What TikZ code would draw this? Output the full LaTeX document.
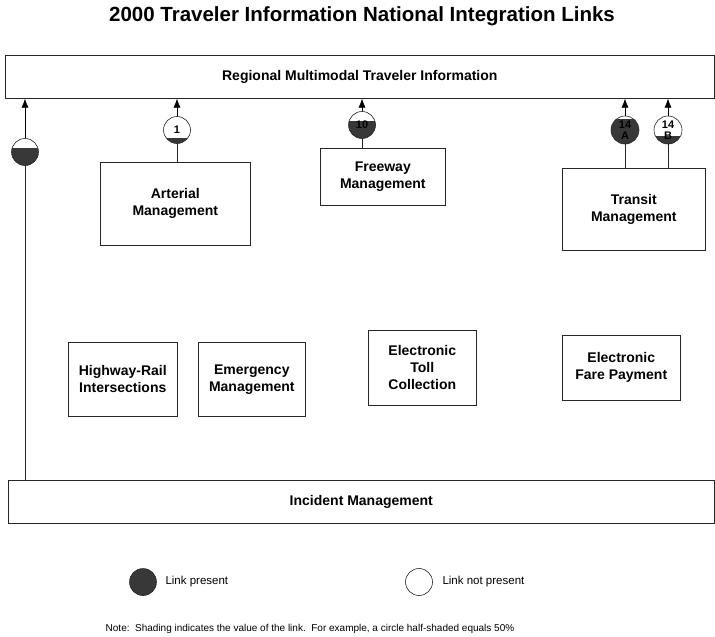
\documentclass[tikz,border=0pt]{standalone}
\usepackage{fontspec}
\setmainfont{Liberation Sans}
\usetikzlibrary{arrows.meta,calc}
\definecolor{linkfill}{gray}{0.22}
\tikzset{
    box/.style={draw=black!85, line width=0.6pt, anchor=north west, align=center,
        font=\bfseries\fontsize{14}{17}\selectfont, inner sep=2pt},
    link/.style={circle, draw=black!85, line width=0.6pt, minimum size=27pt, inner sep=0pt,
        align=center, font=\bfseries\fontsize{11}{11}\selectfont,
        path picture={\fill[linkfill] (path picture bounding box.south west) rectangle
            ($(path picture bounding box.south east)!#1!(path picture bounding box.north east)$);}},
    link/.default=0,
    up/.style={-{Latex[length=9pt,width=7pt]}, line width=0.6pt},
    wire/.style={line width=0.6pt, black!85},
    small/.style={font=\fontsize{11.5}{13}\selectfont}
}
\begin{document}
\begin{tikzpicture}[x=1pt,y=-1pt]
    \useasboundingbox (0,0) rectangle (715,637);

    % 标题
    \node[font=\bfseries\fontsize{20.5}{22}\selectfont] (title) at (362,16)
        {2000 Traveler Information National Integration Links};

    % 上下两个长框
    \node[box, minimum width=709pt, minimum height=43pt] (rmti) at (5,55)
        {Regional Multimodal Traveler Information};
    \node[box, minimum width=706pt, minimum height=43pt] (im) at (8,480)
        {Incident Management};

    % 中间各个框
    \node[box, minimum width=150pt, minimum height=83pt] (art) at (100,162) {Arterial\\Management};
    \node[box, minimum width=125pt, minimum height=57pt] (fwy) at (320,148) {Freeway\\Management};
    \node[box, minimum width=143pt, minimum height=82pt] (trn) at (562,168) {Transit\\Management};
    \node[box, minimum width=109pt, minimum height=74pt] (hri) at (68,342) {Highway-Rail\\Intersections};
    \node[box, minimum width=107pt, minimum height=74pt] (em) at (198,342) {Emergency\\Management};
    \node[box, minimum width=108pt, minimum height=75pt] (etc) at (368,330) {Electronic\\Toll\\Collection};
    \node[box, minimum width=118pt, minimum height=65pt] (efp) at (562,335) {Electronic\\Fare Payment};

    % 连接圆
    \node[link=0.66, minimum size=27pt] (l0) at (25,152) {};
    \node[link=0.22] (l1) at (177,130) {1};
    \node[link=0.65] (l10) at (362,125) {10};
    \node[link=0.9, minimum size=28pt] (l14a) at (625,130) {14\\A};
    \node[link=0.3, minimum size=28pt] (l14b) at (668,130) {14\\B};

    % 连线与箭头
    \foreach \c in {l0,l1,l10,l14a,l14b}
        \draw[up] (\c) -- (\c |- rmti.south);
    \draw[wire] (im.north -| l0) -- (l0);
    \draw[wire] (art.north -| l1) -- (l1);
    \draw[wire] (fwy.north -| l10) -- (l10);
    \draw[wire] (trn.north -| l14a) -- (l14a);
    \draw[wire] (trn.north -| l14b) -- (l14b);

    % 图例
    \node[link=1] (lp) at (143,582) {};
    \node[small, anchor=west] (lpt) at (162,582) {Link present};
    \node[link] (lnp) at (419,582) {};
    \node[small, anchor=west] (lnpt) at (439,582) {Link not present};

    % 注释
    \node[font=\fontsize{10}{12}\selectfont] (note) at (310,629)
        {Note:\ \ Shading indicates the value of the link.\ \ For example, a circle half-shaded equals 50\%};
\end{tikzpicture}
\end{document}
